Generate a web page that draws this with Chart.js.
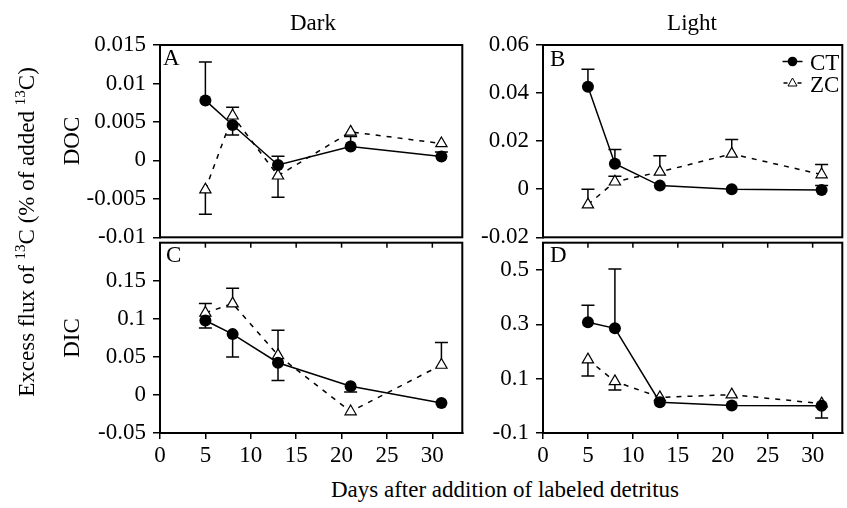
<!DOCTYPE html>
<html><head><meta charset="utf-8">
<script src="https://cdn.jsdelivr.net/npm/chart.js@4.4.1/dist/chart.umd.min.js"></script>
<style>
html,body{margin:0;padding:0;background:#fff;overflow:hidden;width:847px;height:508px;}
body{position:relative;font-family:"Liberation Serif","Times New Roman",Times,serif;color:#000;}
canvas{position:absolute;}
.t{position:absolute;font-size:23px;line-height:23px;white-space:nowrap;}
.r{transform:translate(-50%,-50%) rotate(-90deg);}
.h{transform:translateX(-50%);}
sup{font-size:15px;vertical-align:baseline;position:relative;top:-9px;}
</style></head><body>
<canvas id="cA" width="470" height="245" style="left:0;top:0;width:470px;height:245px"></canvas>
<canvas id="cB" width="380" height="245" style="left:470px;top:0;width:380px;height:245px"></canvas>
<canvas id="cC" width="470" height="235" style="left:0;top:235px;width:470px;height:235px"></canvas>
<canvas id="cD" width="380" height="235" style="left:470px;top:235px;width:380px;height:235px"></canvas>

<div class="t h" style="left:313px;top:11px">Dark</div>
<div class="t h" style="left:692px;top:11px">Light</div>
<div class="t" style="left:163px;top:46px">A</div>
<div class="t" style="left:550px;top:47px">B</div>
<div class="t" style="left:166px;top:243px">C</div>
<div class="t" style="left:550px;top:243px">D</div>
<div class="t r" style="left:71px;top:141px">DOC</div>
<div class="t r" style="left:71px;top:338px">DIC</div>
<div class="t r" style="left:28px;top:232px">Excess flux of <sup>13</sup>C (% of added <sup>13</sup>C)</div>
<div class="t h" style="left:505px;top:478px">Days after addition of labeled detritus</div>
<div class="t" style="left:810px;top:51px">CT</div>
<div class="t" style="left:810px;top:73px">ZC</div>

<script>
// ---- data ----
const days = [5, 8, 13, 21, 31];
const xTickValues = [0, 5, 10, 15, 20, 25, 30];
const xTickLabels = ['0', '5', '10', '15', '20', '25', '30'];

// A: Dark, DOC
const aCT    = [0.0078, 0.0046, -0.0006, 0.0018, 0.0005];
const aCTbar = [0.0128, 0.0033, 0.00055, 0.0031, 0.0011];
const aZC    = [-0.0038, 0.0058, -0.0020, 0.0037, 0.0022];
const aZCbar = [-0.0070, 0.0069, -0.0048, null, null];
const aTickValues = [-0.01, -0.005, 0, 0.005, 0.01, 0.015];
const aTickLabels = ['-0.01', '-0.005', '0', '0.005', '0.01', '0.015'];

// B: Light, DOC
const bCT    = [0.0426, 0.0106, 0.0015, 0.0000, -0.0003];
const bCTbar = [0.0499, 0.0165, null, null, 0.0015];
const bZC    = [-0.0064, 0.0031, 0.0072, 0.0147, 0.0061];
const bZCbar = [0.0000, 0.0054, 0.0139, 0.0207, 0.0103];
const bTickValues = [-0.02, 0, 0.02, 0.04, 0.06];
const bTickLabels = ['-0.02', '0', '0.02', '0.04', '0.06'];

// C: Dark, DIC
const cCT    = [0.0978, 0.0799, 0.0423, 0.0115, -0.0107];
const cCTbar = [0.088, 0.050, 0.019, 0.004, null];
const cZC    = [0.1077, 0.120, 0.052, -0.0218, 0.0393];
const cZCbar = [0.120, 0.140, 0.085, null, 0.069];
const cTickValues = [-0.05, 0, 0.05, 0.1, 0.15];
const cTickLabels = ['-0.05', '0', '0.05', '0.1', '0.15'];

// D: Light, DIC
const dCT    = [0.307, 0.285, 0.0135, 0.0015, 0.0];
const dCTbar = [0.370, 0.503, null, null, -0.045];
const dZC    = [0.170, 0.090, 0.031, 0.041, 0.008];
const dZCbar = [0.110, 0.058, null, null, null];
const dTickValues = [-0.1, 0.1, 0.3, 0.5];
const dTickLabels = ['-0.1', '0.1', '0.3', '0.5'];

// ---- plugins ----
const FONT = {family: "'Liberation Serif', 'Times New Roman', Times, serif", size: 23};

const errPlugin = {
  id: 'errbars',
  beforeDatasetsDraw(chart) {
    const ctx = chart.ctx, xs = chart.scales.x, ys = chart.scales.y;
    ctx.save();
    ctx.strokeStyle = '#000'; ctx.lineWidth = 1.5; ctx.setLineDash([]);
    chart.data.datasets.forEach(ds => {
      (ds.errEnd || []).forEach((e, i) => {
        if (e === null || e === undefined) return;
        const p = ds.data[i];
        const x = xs.getPixelForValue(p.x);
        const y0 = ys.getPixelForValue(p.y), y1 = ys.getPixelForValue(e);
        ctx.beginPath();
        ctx.moveTo(x, y0); ctx.lineTo(x, y1);
        ctx.moveTo(x - 6.5, y1); ctx.lineTo(x + 6.5, y1);
        ctx.stroke();
      });
    });
    ctx.restore();
  }
};

const framePlugin = {
  id: 'frame',
  afterDraw(chart, args, opts) {
    const ctx = chart.ctx, a = chart.chartArea;
    ctx.save();
    ctx.strokeStyle = '#000'; ctx.lineWidth = 2; ctx.setLineDash([]);
    ctx.strokeRect(a.left, a.top, a.right - a.left, a.bottom - a.top);
    if (opts.innerTop) {
      ctx.lineWidth = 1.5;
      xTickValues.forEach(v => {
        const x = chart.scales.x.getPixelForValue(v);
        ctx.beginPath(); ctx.moveTo(x, a.top); ctx.lineTo(x, a.top + 5); ctx.stroke();
      });
    }
    if (opts.legend) {
      const L = opts.legend;
      ctx.lineWidth = 1.5;
      ctx.beginPath(); ctx.moveTo(L.x - 10, L.y1); ctx.lineTo(L.x + 10, L.y1); ctx.stroke();
      ctx.fillStyle = '#000';
      ctx.beginPath(); ctx.arc(L.x, L.y1, 4.8, 0, Math.PI * 2); ctx.fill();
      ctx.beginPath(); ctx.moveTo(L.x - 9, L.y2); ctx.lineTo(L.x - 5, L.y2);
      ctx.moveTo(L.x + 5, L.y2); ctx.lineTo(L.x + 9, L.y2); ctx.stroke();
      ctx.fillStyle = '#fff'; ctx.lineWidth = 1;
      ctx.beginPath(); ctx.moveTo(L.x, L.y2 - 5); ctx.lineTo(L.x + 4.5, L.y2 + 3); ctx.lineTo(L.x - 4.5, L.y2 + 3); ctx.closePath();
      ctx.fill(); ctx.stroke();
    }
    ctx.restore();
  }
};

function pts(vals) { return days.map((d, i) => ({x: d, y: vals[i]})); }

function makePanel(id, o) {
  const bottom = o.bottom;
  new Chart(document.getElementById(id), {
    type: 'line',
    data: {
      datasets: [
        {label: 'CT', data: pts(o.ct), errEnd: o.ctBar, borderColor: '#000', borderWidth: 1.5,
         pointStyle: 'circle', pointRadius: 6, pointBackgroundColor: '#000', pointBorderColor: '#000',
         pointBorderWidth: 0, tension: 0, fill: false},
        {label: 'ZC', data: pts(o.zc), errEnd: o.zcBar, borderColor: '#000', borderWidth: 1.5, borderDash: [5, 6],
         pointStyle: 'triangle', pointRadius: 6.5, pointBackgroundColor: '#fff', pointBorderColor: '#000',
         pointBorderWidth: 1.2, tension: 0, fill: false}
      ]
    },
    options: {
      responsive: false, animation: false, devicePixelRatio: 1,
      layout: {padding: {top: bottom ? 5 : 45, bottom: bottom ? 0 : 5, left: 0, right: o.padRight}},
      plugins: {legend: {display: false}, tooltip: {enabled: false},
        frame: {innerTop: bottom, legend: o.legend || null}},
      scales: {
        x: {
          type: 'linear', min: 0, max: 33.3, display: bottom,
          afterBuildTicks: s => { s.ticks = xTickValues.map(v => ({value: v})); },
          afterFit: s => { s.height = bottom ? 37 : 0; s.paddingLeft = 0; s.paddingRight = 0; },
          ticks: {callback: (v, i) => xTickLabels[i], font: FONT, color: '#000', padding: 3, maxRotation: 0, autoSkip: false},
          grid: {drawOnChartArea: false, drawTicks: true, tickLength: 6, color: '#000', lineWidth: 1.5},
          border: {display: true, color: '#000', width: 2}
        },
        y: {
          type: 'linear', min: o.ymin, max: o.ymax,
          afterBuildTicks: s => { s.ticks = o.tickValues.map(v => ({value: v})); },
          afterFit: s => { s.width = o.yw; s.paddingTop = 0; s.paddingBottom = 0; },
          ticks: {callback: (v, i) => o.tickLabels[i], font: FONT, color: '#000', padding: 7, autoSkip: false},
          grid: {drawOnChartArea: false, drawTicks: true, tickLength: 7, color: '#000', lineWidth: 1.5},
          border: {display: true, color: '#000', width: 2}
        }
      }
    },
    plugins: [errPlugin, framePlugin]
  });
}

makePanel('cA', {ct: aCT, ctBar: aCTbar, zc: aZC, zcBar: aZCbar, ymin: -0.01, ymax: 0.015,
  tickValues: aTickValues, tickLabels: aTickLabels, yw: 160, padRight: 6, bottom: false});
makePanel('cB', {ct: bCT, ctBar: bCTbar, zc: bZC, zcBar: bZCbar, ymin: -0.02, ymax: 0.06,
  tickValues: bTickValues, tickLabels: bTickLabels, yw: 73, padRight: 2, bottom: false,
  legend: {x: 322.5, y1: 61.5, y2: 83}});
makePanel('cC', {ct: cCT, ctBar: cCTbar, zc: cZC, zcBar: cZCbar, ymin: -0.05, ymax: 0.2,
  tickValues: cTickValues, tickLabels: cTickLabels, yw: 160, padRight: 6, bottom: true});
makePanel('cD', {ct: dCT, ctBar: dCTbar, zc: dZC, zcBar: dZCbar, ymin: -0.1, ymax: 0.6,
  tickValues: dTickValues, tickLabels: dTickLabels, yw: 73, padRight: 2, bottom: true});
</script>
</body></html>
